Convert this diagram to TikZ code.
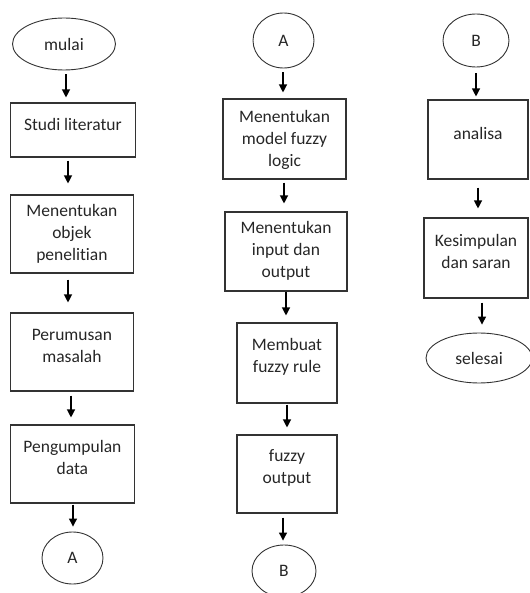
\documentclass[tikz,border=0pt]{standalone}
\usepackage{fontspec}
\setmainfont{Carlito}[Ligatures=CommonOff]
\usetikzlibrary{shapes.geometric,arrows.meta}
\begin{document}
\begin{tikzpicture}[x=1pt,y=-1pt,
  every node/.style={font=\fontsize{17.5}{22}\selectfont, text=black!85},
  box/.style={draw=black!80, line width=1.1pt, rectangle, inner sep=0pt},
  oval/.style={draw=black!80, line width=0.9pt, ellipse, inner sep=0pt},
  lbl/.style={align=center, inner sep=0pt},
  arr/.style={line width=1.2pt, draw=black, -{Triangle[width=8pt,length=8pt]}}
]
\useasboundingbox (0,0) rectangle (529,593);
% column 1
\node[oval, minimum width=103pt, minimum height=52pt] (mulai) at (64,44) {mulai};
\node[box, minimum width=124.3pt, minimum height=54pt] (lit) at (72.9,130) {};
\node[lbl] (tlit) at (72.9,124) {Studi literatur};
\node[box, minimum width=122.3pt, minimum height=78pt] (obj) at (71.9,234) {};
\node[lbl] (tobj) at (71.9,234) {Menentukan\\objek\\penelitian};
\node[box, minimum width=122.3pt, minimum height=78pt] (rum) at (71.9,352) {};
\node[lbl] (trum) at (71.9,345.5) {Perumusan\\masalah};
\node[box, minimum width=123.3pt, minimum height=78pt] (kum) at (72.4,464) {};
\node[lbl] (tkum) at (72.4,457.5) {Pengumpulan\\data};
\node[oval, minimum width=61pt, minimum height=52pt] (A1) at (72.5,558) {A};
% column 2
\node[oval, minimum width=61pt, minimum height=55pt] (A2) at (283.5,40.5) {A};
\node[box, minimum width=123pt, minimum height=80pt] (mod) at (284.5,139) {};
\node[lbl] (tmod) at (284.5,139.5) {Menentukan\\model fuzzy\\logic};
\node[box, minimum width=122pt, minimum height=79pt] (io) at (286,251.5) {};
\node[lbl] (tio) at (286,251) {Menentukan\\input dan\\output};
\node[box, minimum width=100pt, minimum height=80pt] (rule) at (287,363) {};
\node[lbl] (trule) at (287,357) {Membuat\\fuzzy rule};
\node[box, minimum width=100pt, minimum height=78pt] (fout) at (287,474) {};
\node[lbl] (tfout) at (287,467.5) {fuzzy\\output};
\node[oval, minimum width=64pt, minimum height=52pt] (B2) at (284,571) {B};
% column 3
\node[oval, minimum width=66pt, minimum height=53pt] (B3) at (476,40.5) {B};
\node[box, minimum width=100pt, minimum height=79pt] (ana) at (478,139.5) {};
\node[lbl] (tana) at (478,133) {analisa};
\node[box, minimum width=104pt, minimum height=80pt] (kes) at (476,258) {};
\node[lbl] (tkes) at (476,251.5) {Kesimpulan\\dan saran};
\node[oval, minimum width=106pt, minimum height=50pt] (sel) at (479,358) {selesai};
% arrows column 1
\draw[arr, shorten <=4pt, shorten >=5pt] (mulai.south -| 66,0) -- (lit.north -| 66,0);
\draw[arr, shorten <=3pt, shorten >=11pt] (lit.south -| 68,0) -- (obj.north -| 68,0);
\draw[arr, shorten <=6pt, shorten >=10pt] (obj.south -| 68,0) -- (rum.north -| 68,0);
\draw[arr, shorten <=4pt, shorten >=7pt] (rum.south -| 71,0) -- (kum.north -| 71,0);
\draw[arr, shorten <=1pt, shorten >=5pt] (kum.south -| 73,0) -- (A1.north -| 73,0);
% arrows column 2
\draw[arr, shorten <=4pt, shorten >=6pt] (A2.south -| 283,0) -- (mod.north -| 283,0);
\draw[arr, shorten <=3pt, shorten >=8pt] (mod.south -| 284,0) -- (io.north -| 284,0);
\draw[arr, shorten <=0pt, shorten >=7pt] (io.south -| 286,0) -- (rule.north -| 286,0);
\draw[arr, shorten <=1pt, shorten >=7pt] (rule.south -| 287,0) -- (fout.north -| 287,0);
\draw[arr, shorten <=4pt, shorten >=4pt] (fout.south -| 283,0) -- (B2.north -| 283,0);
% arrows column 3
\draw[arr, shorten <=6pt, shorten >=3pt] (B3.south -| 476,0) -- (ana.north -| 476,0);
\draw[arr, shorten <=8pt, shorten >=9pt] (ana.south -| 478,0) -- (kes.north -| 478,0);
\draw[arr, shorten <=4pt, shorten >=8pt] (kes.south -| 482,0) -- (sel.north -| 482,0);
\end{tikzpicture}
\end{document}
